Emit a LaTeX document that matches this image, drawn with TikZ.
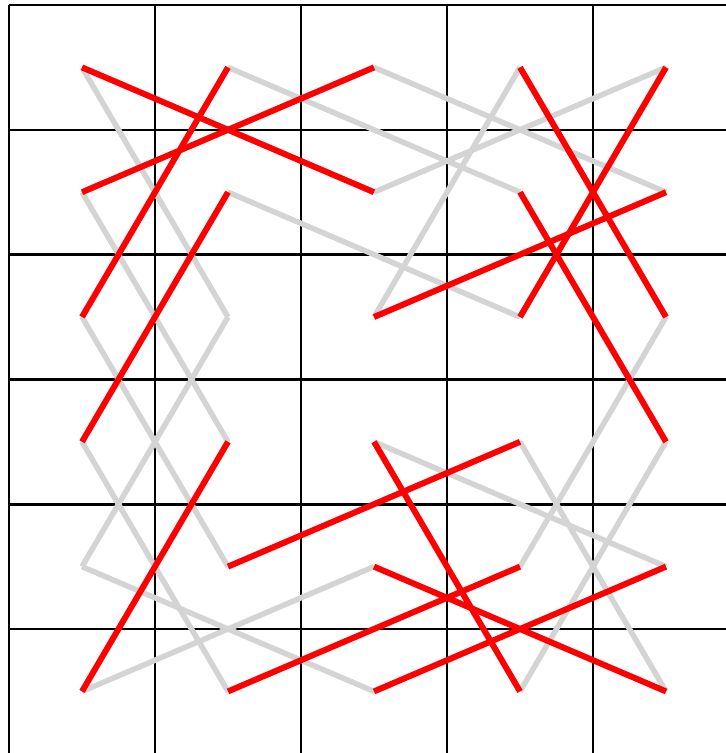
\documentclass[tikz,border=0pt]{standalone}
\usetikzlibrary{positioning}
\definecolor{gdB}{HTML}{000000}
\definecolor{rdL}{HTML}{FF0000}
\definecolor{gyL}{HTML}{D4D4D4}

\begin{document}
\begin{tikzpicture}[x=146pt,y=-124.8pt,
  gridln/.style={draw=gdB,line width=2.6pt},
  rd/.style={draw=rdL,line width=6pt},
  gy/.style={draw=gyL,line width=5.5pt}]

\useasboundingbox (-9pt,5pt) rectangle (717pt,-748pt);
\clip (-9pt,5pt) rectangle (717pt,-748pt);

% board
\foreach \i in {0,...,5} \draw[gridln] (\i,0) -- (\i,6);
\foreach \j in {0,...,6} \draw[gridln] (0,\j) -- (5,\j);

% square centres
\foreach \c in {0,...,4}
  \foreach \r in {0,...,5}
    \coordinate (v\c\r) at (\c+0.5,\r+0.5);

% grey moves
\draw[gy] (v00) -- (v12);
\draw[gy] (v10) -- (v31);
\draw[gy] (v01) -- (v13);
\draw[gy] (v11) -- (v32);
\draw[gy] (v20) -- (v41);
\draw[gy] (v21) -- (v40);
\draw[gy] (v22) -- (v30);
\draw[gy] (v42) -- (v34);
\draw[gy] (v43) -- (v35);
\draw[gy] (v33) -- (v45);
\draw[gy] (v23) -- (v44);
\draw[gy] (v05) -- (v24);
\draw[gy] (v04) -- (v25);
\draw[gy] (v04) -- (v12);
\draw[gy] (v03) -- (v15);
\draw[gy] (v02) -- (v14);

% red moves
\draw[rd] (v00) -- (v21);
\draw[rd] (v01) -- (v20);
\draw[rd] (v10) -- (v02);
\draw[rd] (v11) -- (v03);
\draw[rd] (v30) -- (v42);
\draw[rd] (v40) -- (v32);
\draw[rd] (v41) -- (v22);
\draw[rd] (v31) -- (v43);
\draw[rd] (v33) -- (v14);
\draw[rd] (v23) -- (v35);
\draw[rd] (v44) -- (v25);
\draw[rd] (v45) -- (v24);
\draw[rd] (v34) -- (v15);
\draw[rd] (v05) -- (v13);

\end{tikzpicture}
\end{document}
